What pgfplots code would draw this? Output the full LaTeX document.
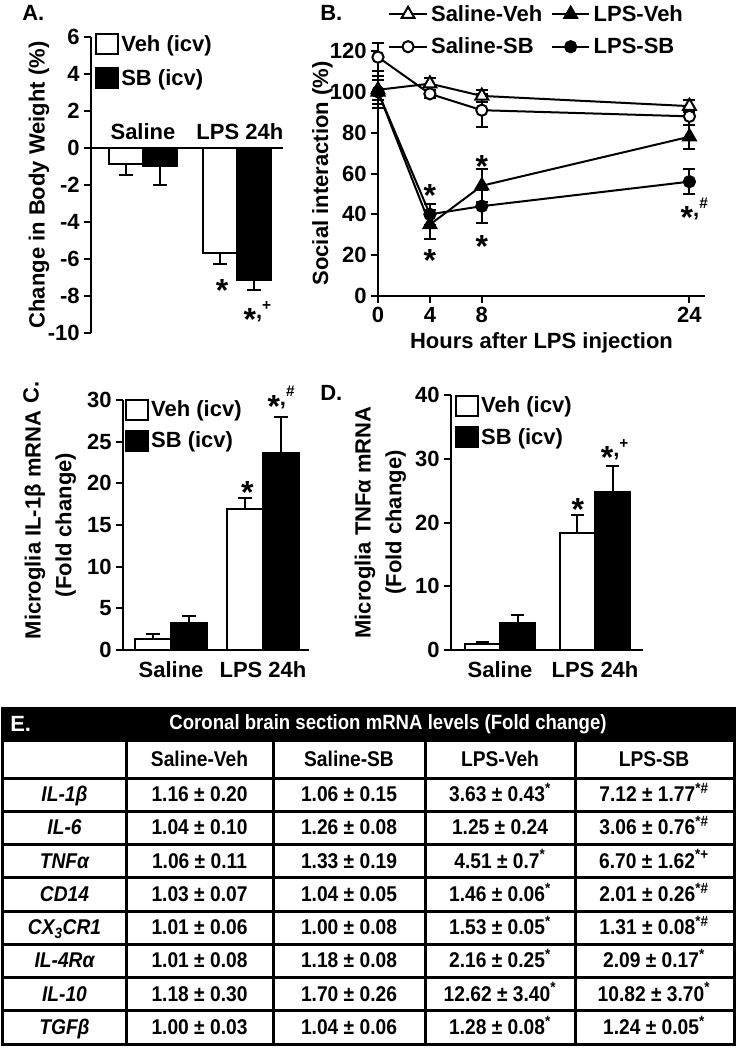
\documentclass[border=0pt]{standalone}
\usepackage{fontspec}
\setmainfont{Liberation Sans}
\newfontfamily\narrowfont[FakeStretch=0.9]{Liberation Sans}
\usepackage{pgfplots}
\pgfplotsset{compat=1.18}

\newcommand\bodyfont{\fontsize{16.5}{19.5}\selectfont\bfseries}
\newcommand\st{\raisebox{-9pt}{\fontsize{24}{24}\selectfont *}}
\newcommand\s[1]{\textsuperscript{#1}}

\pgfplotsset{
  panel/.style={
    scale only axis, clip=false,
    axis line style={line width=1.5pt},
    every tick/.style={black, line width=1.5pt},
    major tick length=5pt,
    tick align=outside,
    /pgf/number format/assume math mode=true,
    tick label style={font=\bodyfont},
    label style={font=\bodyfont},
    legend style={draw=none, fill=none, font=\bodyfont, inner sep=0pt,
      nodes={inner xsep=1.5pt, inner ysep=5pt}},
    legend cell align=left,
  },
  barpanel/.style={
    panel, ybar=0pt,
    axis y line*=left,
    legend image code/.code={\draw[##1, line width=1.5pt] (0pt,-7.5pt) rectangle (16.5pt,7.5pt);},
  },
  bars/.style={draw=black, line width=1.5pt,
    /pgfplots/error bars/y explicit,
    /pgfplots/error bars/y dir=#1,
    /pgfplots/error bars/error bar style={line width=1.5pt, black},
    /pgfplots/error bars/error mark options={rotate=90, line width=1.5pt, mark size=5pt, black}},
  sline/.style={black, line width=1.5pt,
    /pgfplots/error bars/y explicit,
    /pgfplots/error bars/y dir=both,
    /pgfplots/error bars/error bar style={line width=1.5pt},
    /pgfplots/error bars/error mark options={rotate=90, line width=1.5pt, mark size=4.5pt}},
}
\tikzset{
  sig/.style={anchor=base, inner sep=0pt, yshift=-5pt},
  cell/.style={anchor=base, inner sep=0pt},
}

% table row: y centre, gene, four values
\newcommand\trow[6]{%
  \node[cell] at (64.5,#1+7) {\itshape #2};
  \node[cell] at (199.5,#1+7) {#3};
  \node[cell] at (349,#1+7) {#4};
  \node[cell] at (500,#1+7) {#5};
  \node[cell] at (654,#1+7) {#6};}

\begin{document}
\begin{tikzpicture}[font=\bodyfont]
\useasboundingbox (0,0) rectangle (552pt,-786.75pt);

% ---------- A: body weight
\begin{axis}[barpanel,
  at={(91*0.75pt,-333*0.75pt)}, anchor=south west,
  width=144pt, height=222pt,
  axis x line*=middle,
  hide obscured y ticks=false,
  xmin=-0.553, xmax=1.489, ymin=-10, ymax=6,
  ytick={-10,-8,...,6}, xtick=\empty,
  bar width=0.36,
  ylabel={Change in Body Weight (\%)}, ylabel shift=-8pt,
  legend style={at={(axis description cs:0.021,1.033)}, anchor=north west,
    nodes={inner ysep=6pt}},
]
\addplot[fill=white, bars=minus] coordinates {(0,-0.85) +- (0,0.6) (1,-5.7) +- (0,0.58)};
\addplot[fill=black, bars=minus] coordinates {(0,-0.95) +- (0,1.05) (1,-7.12) +- (0,0.55)};
\legend{Veh (icv), SB (icv)}
\node[anchor=base] at (axis cs:0,0.46) {Saline};
\node[anchor=base] at (axis cs:1.03,0.46) {LPS 24h};
\node[sig] at (axis cs:0.84,-7.3) {\st};
\node[sig] at (axis cs:1.22,-8.86) {\st,\s{+}};
\end{axis}

% ---------- B: social interaction
\begin{axis}[panel,
  at={(378*0.75pt,-296*0.75pt)}, anchor=south west,
  width=245.25pt, height=183.75pt,
  axis x line*=bottom, axis y line*=left,
  xmin=0, xmax=25.2, ymin=0, ymax=120,
  xtick={0,4,8,24}, ytick={0,20,...,120},
  xlabel={Hours after LPS injection}, ylabel={Social interaction (\%)},
  ylabel shift=-9pt,
  legend columns=2,
  legend style={at={(axis description cs:0.031,1.21)}, anchor=north west,
    nodes={inner ysep=4pt, inner xsep=2.5pt}, row sep=3pt,
    /tikz/every even column/.append style={column sep=4pt}},
  legend image code/.code={\draw[mark repeat=2,mark phase=2,#1] plot coordinates {(0pt,0pt) (14pt,0pt) (28pt,0pt)};},
]
\addplot[sline, mark=triangle*, mark size=5.5pt, mark options={fill=white}]
  coordinates {(0,101) +- (0,5) (4,104) +- (0,3) (8,98) +- (0,3) (24,93) +- (0,3)};
\addplot[sline, mark=triangle*, mark size=5.5pt, mark options={fill=black}]
  coordinates {(0,100) +- (0,8) (4,35) +- (0,7) (8,54) +- (0,8) (24,78) +- (0,6)};
\addplot[sline, mark=*, mark size=4.2pt, mark options={fill=white}]
  coordinates {(0,117) +- (0,7) (4,99) +- (0,2) (8,91) +- (0,8) (24,88) +- (0,4)};
\addplot[sline, mark=*, mark size=4.2pt, mark options={fill=black}]
  coordinates {(0,100) +- (0,6) (4,40) +- (0,5) (8,44) +- (0,8) (24,56) +- (0,6)};
\legend{Saline-Veh, LPS-Veh, Saline-SB, LPS-SB}
\node[sig] at (axis cs:4,53) {\st};
\node[sig] at (axis cs:4,21) {\st};
\node[sig] at (axis cs:8,67) {\st};
\node[sig] at (axis cs:8,28) {\st};
\node[sig] at (axis cs:24.4,42) {\st,\s{\#}};
\end{axis}

% ---------- C: IL-1beta
\begin{axis}[barpanel,
  at={(123*0.75pt,-650*0.75pt)}, anchor=south west,
  width=139.5pt, height=187.5pt,
  axis x line*=bottom,
  xmin=-0.522, xmax=1.5, ymin=0, ymax=30,
  ytick={0,5,...,30}, xtick={0,1}, xticklabels={Saline, LPS 24h},
  x tick style={draw=none},
  bar width=0.39,
  ylabel={Microglia IL-1β mRNA\\(Fold change)},
  ylabel style={align=center, font=\fontsize{16.5}{23}\selectfont\bfseries},
  ylabel shift=1.5pt,
  legend style={at={(axis description cs:0.01,1.025)}, anchor=north west},
]
\addplot[fill=white, bars=plus] coordinates {(0,1.3) +- (0,0.6) (1,16.9) +- (0,1.4)};
\addplot[fill=black, bars=plus] coordinates {(0,3.3) +- (0,0.8) (1,23.6) +- (0,4.4)};
\legend{Veh (icv), SB (icv)}
\node[sig] at (axis cs:0.83,19.8) {\st};
\node[sig] at (axis cs:1.2,30.2) {\st,\s{\#}};
\end{axis}

% ---------- D: TNFalpha
\begin{axis}[barpanel,
  at={(451*0.75pt,-650*0.75pt)}, anchor=south west,
  width=144pt, height=191.25pt,
  axis x line*=bottom,
  xmin=-0.516, xmax=1.505, ymin=0, ymax=40,
  ytick={0,10,...,40}, xtick={0,1}, xticklabels={Saline, LPS 24h},
  x tick style={draw=none},
  bar width=0.37,
  ylabel={Microglia TNFα mRNA\\(Fold change)},
  ylabel style={align=center, font=\fontsize{16.5}{23}\selectfont\bfseries},
  legend style={at={(axis description cs:0.02,1.02)}, anchor=north west},
]
\addplot[fill=white, bars=plus] coordinates {(0,1.0) +- (0,0.3) (1,18.4) +- (0,2.8)};
\addplot[fill=black, bars=plus] coordinates {(0,4.2) +- (0,1.3) (1,24.8) +- (0,4.0)};
\legend{Veh (icv), SB (icv)}
\node[sig] at (axis cs:0.82,23.2) {\st};
\node[sig] at (axis cs:1.21,31.4) {\st,\s{+}};
\end{axis}

% ---------- panel letters and table E (pixel grid, y down)
\begin{scope}[x=0.75pt, y=-0.75pt]
\node[anchor=west, inner sep=0pt] at (22,13) {A.};
\node[anchor=west, inner sep=0pt] at (320,13) {B.};
\node[rotate=90, inner sep=0pt] at (31,392) {C.};
\node[anchor=west, inner sep=0pt] at (320,393) {D.};

\fill[black] (2,708) rectangle (734,740);
\node[anchor=west, inner sep=0pt, white] at (10,724) {E.};
\node[white, inner sep=0pt, font=\narrowfont\bfseries\fontsize{15.5}{18}\selectfont] at (388,724)
  {Coronal brain section mRNA levels (Fold change)};
\draw[line width=2.25pt] (2,708) rectangle (734,1044);
\foreach \y in {740,778,811.25,844.5,877.75,911,944.25,977.5,1010.75}
  \draw[line width=2.25pt] (2,\y) -- (734,\y);
\foreach \x in {126,273,425,575}
  \draw[line width=2.25pt] (\x,740) -- (\x,1044);
\begin{scope}[font=\narrowfont\bfseries\fontsize{16}{18}\selectfont]
\node[cell] at (199.5,766) {Saline-Veh};
\node[cell] at (349,766) {Saline-SB};
\node[cell] at (500,766) {LPS-Veh};
\node[cell] at (654,766) {LPS-SB};
\trow{794.6}{IL-1β}{1.16 ± 0.20}{1.06 ± 0.15}{3.63 ± 0.43\s{*}}{7.12 ± 1.77\s{*\#}}
\trow{827.9}{IL-6}{1.04 ± 0.10}{1.26 ± 0.08}{1.25 ± 0.24}{3.06 ± 0.76\s{*\#}}
\trow{861.1}{TNFα}{1.06 ± 0.11}{1.33 ± 0.19}{4.51 ± 0.7\s{*}}{6.70 ± 1.62\s{*+}}
\trow{894.4}{CD14}{1.03 ± 0.07}{1.04 ± 0.05}{1.46 ± 0.06\s{*}}{2.01 ± 0.26\s{*\#}}
\trow{927.6}{CX\textsubscript{3}CR1}{1.01 ± 0.06}{1.00 ± 0.08}{1.53 ± 0.05\s{*}}{1.31 ± 0.08\s{*\#}}
\trow{960.9}{IL-4Rα}{1.01 ± 0.08}{1.18 ± 0.08}{2.16 ± 0.25\s{*}}{2.09 ± 0.17\s{*}}
\trow{994.1}{IL-10}{1.18 ± 0.30}{1.70 ± 0.26}{12.62 ± 3.40\s{*}}{10.82 ± 3.70\s{*}}
\trow{1027.4}{TGFβ}{1.00 ± 0.03}{1.04 ± 0.06}{1.28 ± 0.08\s{*}}{1.24 ± 0.05\s{*}}
\end{scope}
\end{scope}
\end{tikzpicture}
\end{document}
